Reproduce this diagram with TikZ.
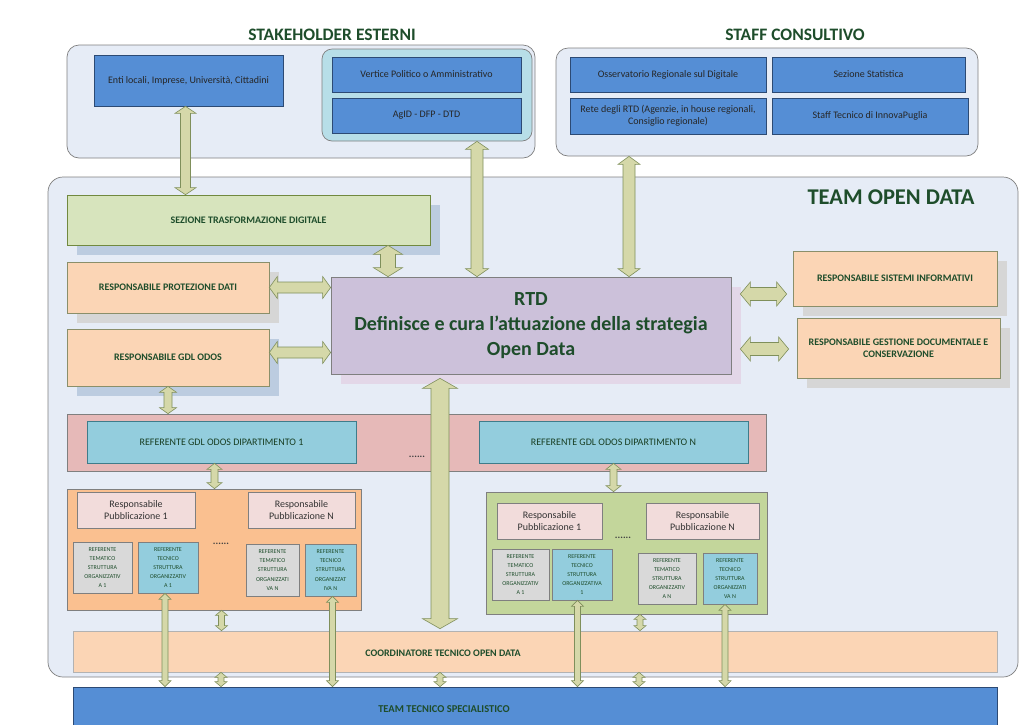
\documentclass[tikz,border=0pt]{standalone}
\usepackage{fontspec}
\setmainfont{Carlito}
\usetikzlibrary{calc}
\usetikzlibrary{shadows}

\definecolor{outerfill}{HTML}{E6ECF6}
\definecolor{outerline}{HTML}{7F7F7F}
\definecolor{bluefill}{HTML}{558ED5}
\definecolor{blueline}{HTML}{2C4A74}
\definecolor{cyanfill}{HTML}{B7DEE8}
\definecolor{reffill}{HTML}{93CDDD}
\definecolor{refline}{HTML}{3E7C8A}
\definecolor{greenfill}{HTML}{D7E4BD}
\definecolor{groupgreen}{HTML}{C3D69B}
\definecolor{greenline}{HTML}{71893F}
\definecolor{peach}{HTML}{FBD5B5}
\definecolor{peachline}{HTML}{8A8F6A}
\definecolor{grouporange}{HTML}{FAC090}
\definecolor{rtdfill}{HTML}{CCC1DA}
\definecolor{rtdshadow}{HTML}{E3D7E8}
\definecolor{bandfill}{HTML}{E6B9B8}
\definecolor{pubfill}{HTML}{F2DCDB}
\definecolor{greyfill}{HTML}{D9D9D9}
\definecolor{shadowblue}{HTML}{BCCCE0}
\definecolor{shadowgrey}{HTML}{D6D6D6}
\definecolor{arrowfill}{HTML}{D5D8A9}
\definecolor{arrowline}{HTML}{7F8F5B}
\definecolor{labelgreen}{HTML}{1E4D2B}

\tikzset{
  % box from its top left to its bottom right corner
  spans/.style n args = {4}{
    at = {({(#1+#3)/2},{(#2+#4)/2})},
    minimum width = #3pt-#1pt,
    minimum height = #4pt-#2pt
  },
  org box/.style = {
    rectangle,
    inner sep = 0pt,
    line width = 0.7pt,
    align = center,
    text = labelgreen
  },
  % rounded containers
  container/.style = {
    org box,
    draw = outerline,
    fill = outerfill,
    rounded corners = 12pt
  },
  heading/.style = {
    text = labelgreen,
    font = \fontsize{17.5}{20}\selectfont\bfseries
  },
  blue unit/.style = {
    org box,
    draw = blueline,
    fill = bluefill,
    text = black!85,
    font = \fontsize{10}{12}\selectfont
  },
  role/.style = {
    org box,
    draw = peachline,
    fill = #1,
    font = \fontsize{10}{12}\selectfont\bfseries
  },
  % text of the wide bottom bars, left of their centre
  bar label/.style = {
    xshift = -92pt,
    text = labelgreen,
    font = \fontsize{10}{12}\selectfont\bfseries
  },
  boxshadow/.style = {
    drop shadow = {shadow xshift = 10pt, shadow yshift = -10pt,
      fill = #1, opacity = 1}
  },
  referente/.style = {
    org box,
    draw = refline,
    fill = reffill,
    text = labelgreen!80!black,
    font = \fontsize{10}{12}\selectfont
  },
  pubbl/.style = {
    org box,
    draw = outerline,
    fill = pubfill,
    text = black!80,
    font = \fontsize{10}{12.5}\selectfont
  },
  % small boxes of the structures
  struttura/.style = {
    org box,
    draw = outerline,
    fill = #1,
    font = \fontsize{6}{9.2}\selectfont
  },
  dots/.style = {
    text = black!75,
    font = \fontsize{10}{10}\selectfont\bfseries
  }
}
\tikzset {
  arrow body/.style = {
    draw = arrowline,
    fill = arrowfill,
    line width = 0.6pt
  },
  % vertical block arrow: shaft half width, head half width, head length
  varr/.style n args = {3}{
    arrow body,
    to path = {
      let \p1 = (\tikztostart), \p2 = (\tikztotarget) in
      (\x1, \y1) -- (\x1 + #2pt, \y1 - #3pt) -- (\x1 + #1pt, \y1 - #3pt)
      -- (\x1 + #1pt, \y2 + #3pt) -- (\x1 + #2pt, \y2 + #3pt) -- (\x1, \y2)
      -- (\x1 - #2pt, \y2 + #3pt) -- (\x1 - #1pt, \y2 + #3pt)
      -- (\x1 - #1pt, \y1 - #3pt) -- (\x1 - #2pt, \y1 - #3pt) -- cycle
    }
  },
  % horizontal block arrow, same arguments
  harr/.style n args = {3}{
    arrow body,
    to path = {
      let \p1 = (\tikztostart), \p2 = (\tikztotarget) in
      (\x1, \y1) -- (\x1 + #3pt, \y1 + #2pt) -- (\x1 + #3pt, \y1 + #1pt)
      -- (\x2 - #3pt, \y1 + #1pt) -- (\x2 - #3pt, \y1 + #2pt) -- (\x2, \y1)
      -- (\x2 - #3pt, \y1 - #2pt) -- (\x2 - #3pt, \y1 - #1pt)
      -- (\x1 + #3pt, \y1 - #1pt) -- (\x1 + #3pt, \y1 - #2pt) -- cycle
    }
  }
}

\begin{document}
\begin{tikzpicture}[x=1pt, y=-1pt]
    \useasboundingbox (0,0) rectangle (1022,724);

    % stakeholder esterni
    \node[container, spans={67}{45}{535}{158}] (stake) {};
    \node[heading] (stake-title) at (332,35) {STAKEHOLDER ESTERNI};
    \node[blue unit, spans={94}{55}{283}{106}] (enti) {Enti locali, Imprese, Università, Cittadini};
    \node[container, fill=cyanfill, rounded corners=10pt, spans={322}{49}{532}{141}] (istit) {};
    \node[blue unit, spans={332}{57}{521}{92}] (vertice) {Vertice Politico o Amministrativo};
    \node[blue unit, spans={332}{98}{521}{133}] (agid) {AgID - DFP - DTD};

    % staff consultivo
    \node[container, spans={556}{48}{978}{156}] (staff) {};
    \node[heading] (staff-title) at (795,35) {STAFF CONSULTIVO};
    \node[blue unit, spans={570}{57}{766}{92}] (osserv) {Osservatorio Regionale sul Digitale};
    \node[blue unit, spans={772}{57}{965}{92}] (statist) {Sezione Statistica};
    \node[blue unit, spans={570}{98}{766}{134}] (rete) {Rete degli RTD (Agenzie, in house regionali,\\Consiglio regionale)};
    \node[blue unit, spans={772}{98}{968}{134}] (innova) {Staff Tecnico di InnovaPuglia};

    % team open data
    \node[container, rounded corners=15pt, spans={48}{177}{1018}{677}] (team) {};
    \node[heading, font=\fontsize{22.5}{24}\selectfont\bfseries] (team-title) at (891,197) {TEAM OPEN DATA};
    \node[role=greenfill, draw=greenline, boxshadow=shadowblue, spans={67}{195}{430}{245}] (sezione) {SEZIONE TRASFORMAZIONE DIGITALE};
    \node[role=peach, boxshadow=shadowgrey, spans={67}{262}{269}{313}] (prot) {RESPONSABILE PROTEZIONE DATI};
    \node[role=peach, boxshadow=shadowblue, spans={67}{329}{269}{386}] (gdl) {RESPONSABILE GDL ODOS};
    \node[org box, draw=outerline, fill=rtdfill, boxshadow=rtdshadow,
      font=\fontsize{20}{25}\selectfont\bfseries, spans={331}{277}{731}{374}] (rtd)
      {RTD\\Definisce e cura l’attuazione della strategia\\Open Data};
    \node[role=peach, boxshadow=shadowgrey, spans={793}{251}{997}{306}] (sistemi) {RESPONSABILE SISTEMI INFORMATIVI};
    \node[role=peach, boxshadow=shadowgrey, spans={797}{318}{1000}{378}] (gestione) {RESPONSABILE GESTIONE DOCUMENTALE E\\CONSERVAZIONE};

    % referenti di dipartimento
    \node[org box, draw=outerline, fill=bandfill, spans={67}{414}{766}{471}] (band) {};
    \node[referente, spans={87}{421}{356}{463}] (ref1) {REFERENTE GDL ODOS DIPARTIMENTO 1};
    \node[referente, spans={479}{421}{748}{463}] (refN) {REFERENTE GDL ODOS DIPARTIMENTO N};
    \node[dots] (band-dots) at (417,457) {......};

    % dipartimento 1
    \node[org box, draw=outerline, fill=grouporange, spans={67}{489}{361}{610}] (dip1) {};
    \node[pubbl, spans={77}{492}{195}{528}] (pub1a) {Responsabile\\Pubblicazione 1};
    \node[pubbl, spans={248}{492}{355}{528}] (pubNa) {Responsabile\\Pubblicazione N};
    \node[dots] (dots-a) at (221,544) {......};
    \node[struttura=greyfill, spans={73}{542}{132}{593}] (tema1a) {REFERENTE\\TEMATICO\\STRUTTURA\\ORGANIZZATIV\\A 1};
    \node[struttura=reffill, spans={138}{542}{198}{593}] (tecn1a) {REFERENTE\\TECNICO\\STRUTTURA\\ORGANIZZATIV\\A 1};
    \node[struttura=greyfill, spans={246}{544}{299}{596}] (temaNa) {REFERENTE\\TEMATICO\\STRUTTURA\\ORGANIZZATI\\VA N};
    \node[struttura=reffill, spans={305}{544}{356}{596}] (tecnNa) {REFERENTE\\TECNICO\\STRUTTURA\\ORGANIZZAT\\IVA N};

    % dipartimento N
    \node[org box, draw=outerline, fill=groupgreen, spans={486}{492}{767}{614}] (dipN) {};
    \node[pubbl, spans={497}{503}{602}{539}] (pub1b) {Responsabile\\Pubblicazione 1};
    \node[pubbl, spans={646}{503}{759}{539}] (pubNb) {Responsabile\\Pubblicazione N};
    \node[dots] (dots-b) at (623,538) {......};
    \node[struttura=greyfill, spans={492}{549}{549}{600}] (tema1b) {REFERENTE\\TEMATICO\\STRUTTURA\\ORGANIZZATIV\\A 1};
    \node[struttura=reffill, spans={552}{549}{612}{600}] (tecn1b) {REFERENTE\\TECNICO\\STRUTTURA\\ORGANIZZATIVA\\1};
    \node[struttura=greyfill, spans={638}{553}{696}{604}] (temaNb) {REFERENTE\\TEMATICO\\STRUTTURA\\ORGANIZZATIV\\A N};
    \node[struttura=reffill, spans={703}{553}{757}{604}] (tecnNb) {REFERENTE\\TECNICO\\STRUTTURA\\ORGANIZZATI\\VA N};

    \node[role=peach, draw=outerline!60, spans={73}{631}{997}{672},
      label={[bar label, yshift=-1.5pt]center:COORDINATORE TECNICO OPEN DATA}] (coord) {};
    \node[role=bluefill, draw=blueline, spans={73}{687}{997}{731},
      label={[bar label, xshift=1pt, font=\fontsize{10.5}{12}\selectfont\bfseries]center:TEAM TECNICO SPECIALISTICO}] (specialist) {};

    % arrows
    \draw[varr={5}{10.5}{7}] ([xshift=-3pt]enti.south) to (sezione.north);
    \draw[varr={6}{11.5}{8}] ([xshift=50pt]istit.south) to (rtd.north);
    \draw[varr={6}{11}{8}] ([xshift=-138pt]staff.south) to (rtd.north);
    \draw[varr={7.5}{14.5}{9}] ([xshift=139.5pt]sezione.south) to (rtd.north);
    \draw[harr={5.5}{11}{8}] (prot.east) to (rtd.west);
    \draw[harr={5.5}{11}{8}] ([yshift=5pt]gdl.east) to (rtd.west);
    \draw[harr={6.5}{12}{10}] ([xshift=9pt, yshift=31.5pt]rtd.east) to ([xshift=-6pt]sistemi.west);
    \draw[harr={6.5}{12}{10}] ([xshift=9pt, yshift=-23.5pt]rtd.east) to ([xshift=-8pt]gestione.west);
    \draw[varr={4}{8.5}{6}] (gdl.south) to (band.north);
    \draw[varr={3.5}{7.5}{6}] ([xshift=-7pt]ref1.south) to (dip1.north);
    \draw[varr={3.5}{7.5}{6}] (refN.south) to (dipN.north);
    \draw[varr={9}{17.5}{10}] ([xshift=-91pt, yshift=-4pt]rtd.south) to ([yshift=2pt]coord.north);
    \draw[varr={3}{6}{5}] ([xshift=7.5pt]dip1.south) to (coord.north);
    \draw[varr={3}{6}{5}] ([xshift=13.5pt]dipN.south) to (coord.north);
    \draw[varr={3}{6}{6}] ([xshift=-3pt]tecn1a.south) to (specialist.north);
    \draw[varr={3}{6}{6}] ([xshift=2pt]tecnNa.south) to (specialist.north);
    \draw[varr={3}{6}{6}] ([xshift=-4.5pt]tecn1b.south) to (specialist.north);
    \draw[varr={3}{6}{6}] ([xshift=-5pt]tecnNb.south) to (specialist.north);
    \foreach \dx in {-314, -95, 104}
      \draw[varr={3}{6}{5}] ([xshift=\dx pt]coord.south) to (specialist.north);
\end{tikzpicture}
\end{document}
